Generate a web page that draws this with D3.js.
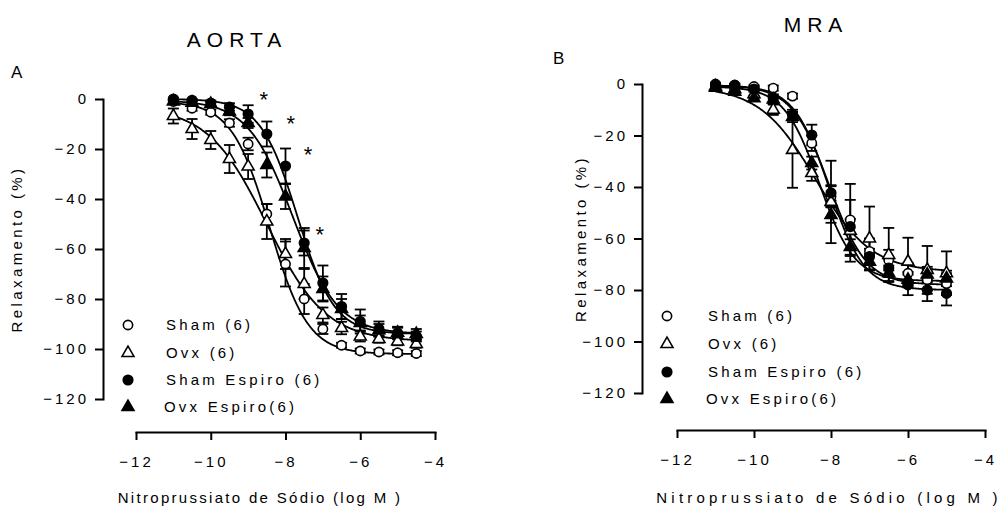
<!DOCTYPE html>
<html>
<head>
<meta charset="utf-8">
<script src="https://cdn.jsdelivr.net/npm/d3@7"></script>
<style>
  html, body { margin: 0; padding: 0; background: #fff; }
  svg { display: block; font-family: "Liberation Sans", Arial, sans-serif; }
  .tick text { font-size: 15px; letter-spacing: 3px; fill: #000; }
  .domain, .tick line { stroke: #000; stroke-width: 2px; }
</style>
</head>
<body>
<svg id="chart" width="1003" height="506"></svg>
<script>
// ---- data ----
const seriesNames = ['Sham (6)', 'Ovx (6)', 'Sham Espiro (6)', 'Ovx Espiro(6)'];
const xTicks = [-12, -10, -8, -6, -4];
const yTicks = [0, -20, -40, -60, -80, -100, -120];

// Aorta
const aortaConc = [-11, -10.5, -10, -9.5, -9, -8.5, -8, -7.5, -7, -6.5, -6, -5.5, -5, -4.5];
const aortaSham     = [-1, -3.7, -5.3, -9.6, -18, -46, -66, -80, -92, -98.5, -100.8, -101.2, -101.5, -101.8];
const aortaShamErr  = [0.5, 1, 1, 1.5, 2.5, 4, 9, 6, 2, 1, 1, 1, 1, 1];
const aortaOvx      = [-6.8, -12, -16.4, -24, -27, -49, -62, -74, -86.4, -91.6, -95, -96, -97, -98];
const aortaOvxErr   = [3, 4, 3.6, 5.6, 5, 7, 6, 6, 3, 2.5, 2, 1.5, 1.5, 1.5];
const aortaShamE    = [0, -0.5, -1.6, -3.2, -6, -14, -26.8, -57.6, -73.6, -83, -89, -92, -93.6, -95];
const aortaShamEErr = [0.5, 0.5, 1, 1.5, 3.5, 5, 7, 5, 7, 5, 4.8, 3, 2.5, 2];
const aortaOvxE     = [-1, -1.5, -2, -5, -9.6, -26.4, -39, -59.6, -76, -84, -89.6, -92.5, -93.5, -94];
const aortaOvxEErr  = [0.5, 0.5, 1, 1.5, 2, 5, 5, 8, 5, 4, 3, 2.5, 2, 2];
// fitted sigmoid parameters (Sham, Ovx, Sham Espiro, Ovx Espiro)
const aortaTop    = [-1, -3, 0, -0.5];
const aortaBottom = [-102, -97, -94, -94];
const aortaEC50   = [-8.42, -8.5, -7.68, -7.8];
const aortaHill   = [0.85, 0.55, 0.88, 0.72];
// significance marks [logM, %]
const aortaStarX = [-8.58, -7.86, -7.4, -7.08];
const aortaStarY = [0.8, -8.8, -21, -53];

// MRA
const mraConc = [-11, -10.5, -10, -9.5, -9, -8.5, -8, -7.5, -7, -6.5, -6, -5.5, -5];
const mraSham     = [0, -0.4, -1, -1.6, -4.7, -23, -43.7, -52.8, -65, -68.4, -73.5, -76, -77.5];
const mraShamErr  = [0.5, 0.5, 0.5, 1, 1, 3, 4, 14, 5, 4, 4, 4, 4];
const mraOvx      = [-1, -2, -4, -10, -25.6, -34.6, -45.8, -57, -60, -66.4, -69, -72.2, -73.5];
const mraOvxErr   = [0.5, 1, 1.5, 2, 14.7, 3, 16, 12, 12.4, 10.5, 9.3, 9.3, 8.5];
const mraShamE    = [-0.5, -0.5, -2, -5.5, -12, -19.8, -42.3, -55.4, -67, -71.5, -78, -80, -81.3];
const mraShamEErr = [0.5, 0.5, 1, 1.5, 2, 4, 3, 3, 3, 3.5, 4, 4.3, 4.7];
const mraOvxE     = [-1.5, -3, -5.5, -6, -12.8, -30.7, -50.9, -63.3, -69, -73.5, -76, -74, -75.5];
const mraOvxEErr  = [0.5, 1, 1, 1.5, 2, 2.5, 3, 3, 3, 3, 3, 3, 3];
const mraTop    = [-0.5, -1, -0.5, -1];
const mraBottom = [-78, -73, -80, -76.5];
const mraEC50   = [-8.05, -8.4, -8.05, -8.3];
const mraHill   = [0.9, 0.6, 0.95, 0.95];

// ---- layout ----
const svg = d3.select('#chart');

const panels = [
  {
    title: 'AORTA', letter: 'A', titleX: 237, titleY: 47, letterX: 11, letterY: 78,
    xRange: [136, 435], yRange: [399, 99], xAxisY: 432, yAxisX: 103,
    yLabelX: 22, xLabelX: 260, xLabelY: 503, xLabelSpacing: 2.3,
    legendX: 128, legendTextX: 166, legendY: [325, 353, 380, 407],
    conc: aortaConc,
    series: [[aortaSham, aortaShamErr], [aortaOvx, aortaOvxErr], [aortaShamE, aortaShamEErr], [aortaOvxE, aortaOvxEErr]],
    fit: [aortaTop, aortaBottom, aortaEC50, aortaHill],
    stars: [aortaStarX, aortaStarY]
  },
  {
    title: 'MRA', letter: 'B', titleX: 816, titleY: 32, letterX: 553, letterY: 64,
    xRange: [677, 985], yRange: [393, 84], xAxisY: 430, yAxisX: 642,
    yLabelX: 586, xLabelX: 829, xLabelY: 503, xLabelSpacing: 4.2,
    legendX: 667, legendTextX: 708, legendY: [316, 344, 372, 399],
    conc: mraConc,
    series: [[mraSham, mraShamErr], [mraOvx, mraOvxErr], [mraShamE, mraShamEErr], [mraOvxE, mraOvxEErr]],
    fit: [mraTop, mraBottom, mraEC50, mraHill],
    stars: null
  }
];

// marker style per series: open circle, open triangle, filled circle, filled triangle
const markerType = [d3.symbolCircle, d3.symbolTriangle, d3.symbolCircle, d3.symbolTriangle];
const markerFill = ['#fff', '#fff', '#000', '#000'];
const markerSize = [68, 62, 72, 62];

panels.forEach(p => {
  const x = d3.scaleLinear().domain([-12, -4]).range(p.xRange);
  const y = d3.scaleLinear().domain([-120, 0]).range(p.yRange);
  const g = svg.append('g');

  // axes
  g.append('g')
    .attr('transform', `translate(0,${p.xAxisY})`)
    .call(d3.axisBottom(x).tickValues(xTicks).tickSize(8).tickSizeOuter(0).tickPadding(16).tickFormat(d3.format('d')));
  g.append('g')
    .attr('transform', `translate(${p.yAxisX},0)`)
    .call(d3.axisLeft(y).tickValues(yTicks).tickSize(8).tickSizeOuter(0).tickPadding(6).tickFormat(d3.format('d')));
  g.selectAll('.domain').attr('stroke-linecap', 'square');

  // titles
  g.append('text').attr('x', p.titleX).attr('y', p.titleY)
    .attr('text-anchor', 'middle').style('font-size', '21px').style('letter-spacing', '6px')
    .text(p.title);
  g.append('text').attr('x', p.letterX).attr('y', p.letterY)
    .style('font-size', '17px').text(p.letter);
  g.append('text')
    .attr('transform', `translate(${p.yLabelX},${(p.yRange[0] + p.yRange[1]) / 2}) rotate(-90)`)
    .attr('text-anchor', 'middle').style('font-size', '15px').style('letter-spacing', '3.4px')
    .text('Relaxamento (%)');
  g.append('text').attr('x', p.xLabelX).attr('y', p.xLabelY)
    .attr('text-anchor', 'middle').style('font-size', '15px').style('letter-spacing', p.xLabelSpacing + 'px')
    .text('Nitroprussiato de Sódio (log M )');

  // fitted curves
  const xs = d3.range(-11, p.conc[p.conc.length - 1] + 0.001, 0.02);
  const line = d3.line().x(d => x(d[0])).y(d => y(d[1]));
  p.series.forEach((s, i) => {
    const top = p.fit[0][i], bot = p.fit[1][i], ec = p.fit[2][i], h = p.fit[3][i];
    const pts = xs.map(v => [v, top + (bot - top) / (1 + Math.pow(10, (ec - v) * h))]);
    g.append('path').datum(pts).attr('d', line)
      .attr('fill', 'none').attr('stroke', '#000').attr('stroke-width', 1.8);
  });

  // error bars
  p.series.forEach(([vals, errs]) => {
    const eb = g.append('g').attr('stroke', '#000').attr('stroke-width', 1.8);
    vals.forEach((v, j) => {
      const cx = x(p.conc[j]);
      const y1 = y(v + errs[j]), y2 = y(v - errs[j]);
      eb.append('line').attr('x1', cx).attr('x2', cx).attr('y1', y1).attr('y2', y2);
      [y1, y2].forEach(yy => eb.append('line').attr('x1', cx - 5.5).attr('x2', cx + 5.5).attr('y1', yy).attr('y2', yy));
    });
  });

  // markers
  p.series.forEach(([vals], i) => {
    g.append('g').selectAll('path').data(vals).join('path')
      .attr('transform', (v, j) => `translate(${x(p.conc[j])},${y(v)})`)
      .attr('d', d3.symbol().type(markerType[i]).size(markerSize[i]))
      .attr('fill', markerFill[i]).attr('stroke', '#000').attr('stroke-width', 1.6);
  });

  // significance stars
  if (p.stars) {
    p.stars[0].forEach((sx, k) => {
      g.append('text').attr('x', x(sx)).attr('y', y(p.stars[1][k]) + 10)
        .attr('text-anchor', 'middle').style('font-size', '22px').text('*');
    });
  }

  // legend
  seriesNames.forEach((name, i) => {
    const ly = p.legendY[i];
    g.append('path').attr('transform', `translate(${p.legendX},${ly})`)
      .attr('d', d3.symbol().type(markerType[i]).size(markerSize[i]))
      .attr('fill', markerFill[i]).attr('stroke', '#000').attr('stroke-width', 1.6);
    g.append('text').attr('x', p.legendTextX - (i === 3 ? 2 : 0)).attr('y', ly + 5)
      .style('font-size', '15px').style('letter-spacing', '3.2px').text(name);
  });
});
</script>
</body>
</html>
